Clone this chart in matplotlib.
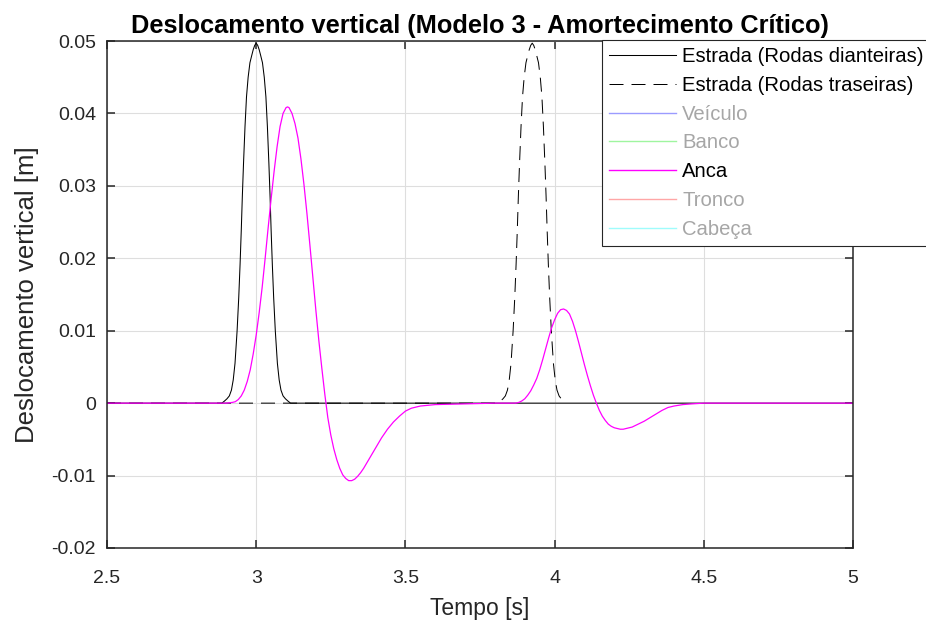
import matplotlib
matplotlib.use("Agg")
import matplotlib.pyplot as plt
from matplotlib.lines import Line2D

plt.rcParams['font.family'] = ['Liberation Sans', 'DejaVu Sans']

# ---------------- data ----------------
front_t = [2.50, 2.86, 2.885, 2.894, 2.902, 2.910, 2.917, 2.923, 2.929, 2.936, 2.9415,
           2.946, 2.950, 2.9535, 2.9575, 2.9625, 2.9675, 2.973, 2.979, 2.985, 2.990,
           2.995, 3.000, 3.005, 3.010, 3.015, 3.021, 3.027, 3.0325, 3.0375, 3.0425,
           3.0465, 3.050, 3.054, 3.0585, 3.064, 3.071, 3.077, 3.083, 3.090, 3.098,
           3.106, 3.115, 5.00]
front_y = [0.0, 0.0, 0.0000, 0.0003, 0.0006, 0.0010, 0.0018, 0.0032, 0.0055, 0.0100,
           0.0146, 0.0192, 0.0239, 0.0285, 0.0331, 0.0382, 0.0423, 0.0450, 0.0470,
           0.0480, 0.0488, 0.0494, 0.0497, 0.0494, 0.0488, 0.0480, 0.0470, 0.0450,
           0.0423, 0.0382, 0.0331, 0.0285, 0.0239, 0.0192, 0.0146, 0.0100, 0.0055,
           0.0032, 0.0018, 0.0010, 0.0006, 0.0003, 0.0, 0.0]

rear_t = [2.50, 3.80, 3.810, 3.819, 3.827, 3.835, 3.842, 3.848, 3.854, 3.861, 3.8665,
          3.871, 3.875, 3.8785, 3.8825, 3.8875, 3.8925, 3.898, 3.904, 3.910, 3.915,
          3.920, 3.925, 3.930, 3.935, 3.940, 3.946, 3.952, 3.9575, 3.9625, 3.9675,
          3.9715, 3.975, 3.979, 3.9835, 3.989, 3.996, 4.002, 4.008, 4.015, 4.024]
rear_y = [0.0, 0.0, 0.0000, 0.0003, 0.0006, 0.0010, 0.0018, 0.0032, 0.0055, 0.0100,
          0.0146, 0.0192, 0.0239, 0.0285, 0.0331, 0.0382, 0.0423, 0.0450, 0.0470,
          0.0480, 0.0488, 0.0494, 0.0497, 0.0494, 0.0488, 0.0480, 0.0470, 0.0450,
          0.0423, 0.0382, 0.0331, 0.0285, 0.0239, 0.0192, 0.0146, 0.0100, 0.0055,
          0.0032, 0.0018, 0.0010, 0.0005]

anca_t = [2.50, 2.90, 2.92, 2.93, 2.94, 2.95, 2.96, 2.97, 2.98, 2.99, 3.00, 3.01,
          3.02, 3.03, 3.04, 3.05, 3.06, 3.07, 3.08, 3.09, 3.10, 3.105, 3.11, 3.12,
          3.13, 3.14, 3.15, 3.16, 3.17, 3.18, 3.19, 3.20, 3.21, 3.22, 3.23, 3.24,
          3.25, 3.26, 3.27, 3.28, 3.29, 3.30, 3.31, 3.32, 3.33, 3.34, 3.35, 3.36,
          3.38, 3.40, 3.42, 3.44, 3.46, 3.48, 3.50, 3.52, 3.55, 3.60, 3.70, 3.80,
          3.87, 3.88, 3.89, 3.90, 3.91, 3.92, 3.93, 3.94, 3.95, 3.96, 3.97, 3.98,
          3.99, 4.00, 4.01, 4.02, 4.03, 4.04, 4.05, 4.06, 4.07, 4.08, 4.09, 4.10,
          4.11, 4.12, 4.13, 4.14, 4.15, 4.16, 4.17, 4.18, 4.19, 4.20, 4.21, 4.22,
          4.23, 4.24, 4.26, 4.28, 4.30, 4.32, 4.34, 4.36, 4.38, 4.40, 4.43, 4.46,
          4.50, 5.00]
anca_y = [0.0, 0.0, 0.0001, 0.0002, 0.0005, 0.0010, 0.0018, 0.0030, 0.0046, 0.0068,
          0.0094, 0.0125, 0.0160, 0.0200, 0.0242, 0.0282, 0.0320, 0.0354, 0.0382,
          0.0400, 0.0408, 0.0409, 0.0408, 0.0400, 0.0386, 0.0366, 0.0337, 0.0302,
          0.0262, 0.0218, 0.0173, 0.0128, 0.0086, 0.0048, 0.0012, -0.0020, -0.0044,
          -0.0063, -0.0078, -0.0090, -0.0099, -0.0104, -0.0107, -0.0107, -0.0105,
          -0.0101, -0.0096, -0.0090, -0.0076, -0.0062, -0.0048, -0.0036, -0.0026,
          -0.0018, -0.0011, -0.0007, -0.0004, -0.0002, -0.0001, 0.0,
          0.0, 0.0001, 0.0003, 0.0006, 0.0011, 0.0017, 0.0025, 0.0034, 0.0046,
          0.0060, 0.0075, 0.0090, 0.0104, 0.0115, 0.0124, 0.0129, 0.0130, 0.0128,
          0.0123, 0.0113, 0.0100, 0.0085, 0.0069, 0.0053, 0.0038, 0.0024, 0.0011,
          0.0000, -0.0010, -0.0018, -0.0024, -0.0029, -0.0032, -0.0034, -0.0035,
          -0.0036, -0.0036, -0.0035, -0.0033, -0.0029, -0.0025, -0.0020, -0.0015,
          -0.0010, -0.0006, -0.0004, -0.0002, -0.0001, 0.0, 0.0]

xticks = [2.5, 3, 3.5, 4, 4.5, 5]
xtick_labels = ['2.5', '3', '3.5', '4', '4.5', '5']
yticks = [-0.02, -0.01, 0, 0.01, 0.02, 0.03, 0.04, 0.05]
ytick_labels = ['-0.02', '-0.01', '0', '0.01', '0.02', '0.03', '0.04', '0.05']

legend_labels = ['Estrada (Rodas dianteiras)', 'Estrada (Rodas traseiras)',
                 'Veículo', 'Banco', 'Anca', 'Tronco', 'Cabeça']

# ---------------- figure ----------------
W, H = 926, 628
fig = plt.figure(figsize=(W / 100, H / 100), dpi=100)
ax = fig.add_axes([107 / W, 1 - 548 / H, (853 - 107) / W, (548 - 41) / H])

axcol = (0.15, 0.15, 0.15)

l1, = ax.plot(front_t, front_y, color='black', lw=0.75)
l2, = ax.plot(rear_t, rear_y, color='black', lw=0.72, dashes=(14, 8))
l5, = ax.plot(anca_t, anca_y, color='#ff00ff', lw=0.9)

ax.set_xlim(2.5, 5)
ax.set_ylim(-0.02, 0.05)
ax.set_xticks(xticks)
ax.set_xticklabels(xtick_labels)
ax.set_yticks(yticks)
ax.set_yticklabels(ytick_labels)

ax.grid(True, color='#dedede', lw=0.8)
ax.set_axisbelow(True)
for s in ax.spines.values():
    s.set_color(axcol)
    s.set_linewidth(1.1)
ax.tick_params(direction='in', length=6, width=1.1, color=axcol,
               labelcolor=axcol, labelsize=14, top=True, right=True, pad=8)
ax.tick_params(axis='x', pad=16)

ax.set_xlabel('Tempo [s]', fontsize=16.5, color=axcol, labelpad=7)
ax.set_ylabel('Deslocamento vertical [m]', fontsize=18.5, color=axcol, labelpad=9)
ax.set_title('Deslocamento vertical (Modelo 3 - Amortecimento Crítico)',
             fontsize=18.3, fontweight='bold', color='black', pad=6)

handles = [
    l1,
    Line2D([], [], color='black', lw=0.72, dashes=(14, 8)),
    Line2D([], [], color='#9b9bff', lw=1.0),
    Line2D([], [], color='#9ff59f', lw=1.0),
    Line2D([], [], color='#ff00ff', lw=1.0),
    Line2D([], [], color='#ffa6a6', lw=1.0),
    Line2D([], [], color='#9ffcfc', lw=1.0),
]
leg = fig.legend(handles, legend_labels, loc='upper left',
                 bbox_to_anchor=(602 / W, 1 - 40 / H), bbox_transform=fig.transFigure,
                 fontsize=14.6, frameon=True, fancybox=False, framealpha=1,
                 edgecolor=axcol, borderpad=0.36, labelspacing=0.48,
                 handlelength=3.3, handletextpad=0.3, borderaxespad=0)
leg.get_frame().set_linewidth(0.8)
grey = '#a6a6a6'
for txt, c in zip(leg.get_texts(), ['black', 'black', grey, grey, 'black', grey, grey]):
    txt.set_color(c)

fig.savefig('out.png', dpi=100)
